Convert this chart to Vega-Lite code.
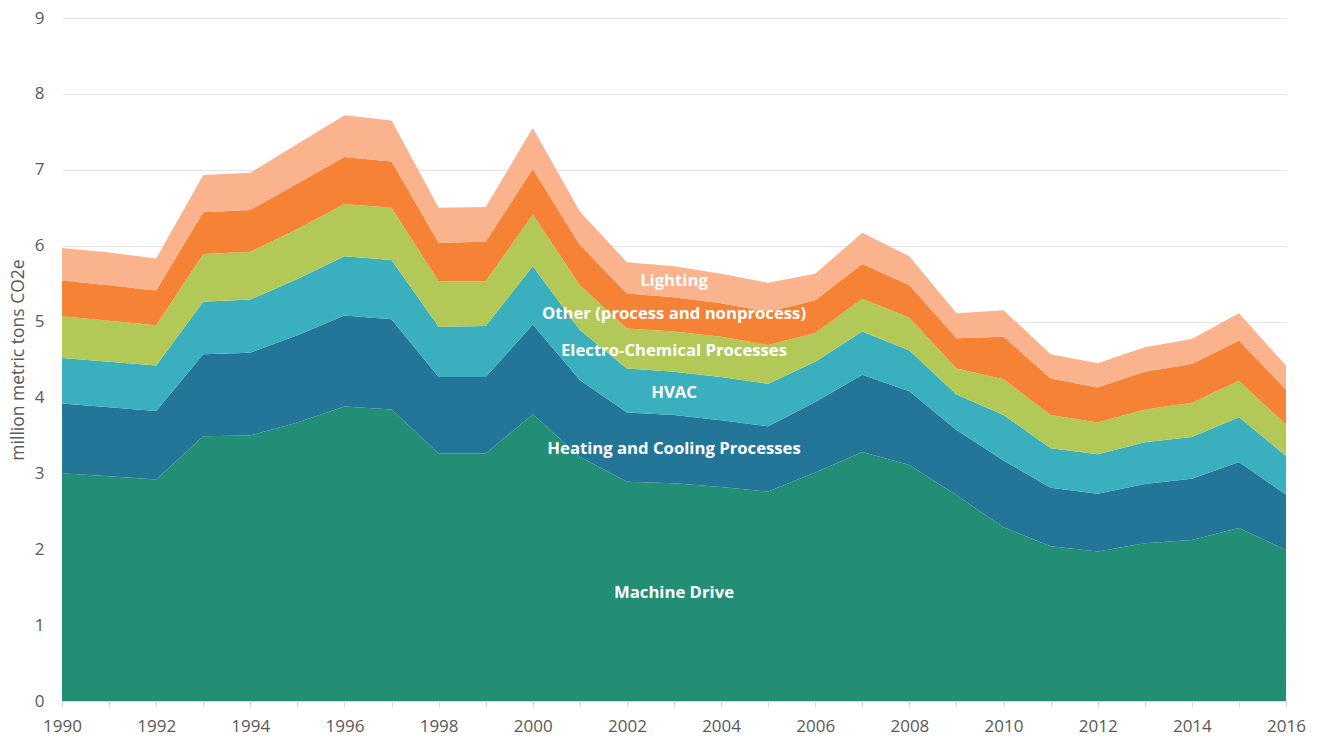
{
  "$schema": "https://vega.github.io/schema/vega-lite/v6.json",
  "autosize": {"type": "none"},
  "width": 1224,
  "height": 683,
  "padding": {"left": 62, "top": 18, "right": 34, "bottom": 37},
  "background": "white",
  "config": {
    "view": {"stroke": null},
    "font": "Open Sans",
    "axis": {"labelFont": "Open Sans", "titleFont": "Open Sans"}
  },
  "datasets": {
    "emissions": [
      {"year":1990,"use":"Machine Drive","k":1,"v":3.00},
      {"year":1990,"use":"Heating and Cooling Processes","k":2,"v":0.92},
      {"year":1990,"use":"HVAC","k":3,"v":0.60},
      {"year":1990,"use":"Electro-Chemical Processes","k":4,"v":0.55},
      {"year":1990,"use":"Other (process and nonprocess)","k":5,"v":0.47},
      {"year":1990,"use":"Lighting","k":6,"v":0.43},
      {"year":1991,"use":"Machine Drive","k":1,"v":2.96},
      {"year":1991,"use":"Heating and Cooling Processes","k":2,"v":0.91},
      {"year":1991,"use":"HVAC","k":3,"v":0.60},
      {"year":1991,"use":"Electro-Chemical Processes","k":4,"v":0.54},
      {"year":1991,"use":"Other (process and nonprocess)","k":5,"v":0.47},
      {"year":1991,"use":"Lighting","k":6,"v":0.43},
      {"year":1992,"use":"Machine Drive","k":1,"v":2.92},
      {"year":1992,"use":"Heating and Cooling Processes","k":2,"v":0.90},
      {"year":1992,"use":"HVAC","k":3,"v":0.60},
      {"year":1992,"use":"Electro-Chemical Processes","k":4,"v":0.53},
      {"year":1992,"use":"Other (process and nonprocess)","k":5,"v":0.46},
      {"year":1992,"use":"Lighting","k":6,"v":0.42},
      {"year":1993,"use":"Machine Drive","k":1,"v":3.49},
      {"year":1993,"use":"Heating and Cooling Processes","k":2,"v":1.08},
      {"year":1993,"use":"HVAC","k":3,"v":0.69},
      {"year":1993,"use":"Electro-Chemical Processes","k":4,"v":0.63},
      {"year":1993,"use":"Other (process and nonprocess)","k":5,"v":0.55},
      {"year":1993,"use":"Lighting","k":6,"v":0.49},
      {"year":1994,"use":"Machine Drive","k":1,"v":3.50},
      {"year":1994,"use":"Heating and Cooling Processes","k":2,"v":1.09},
      {"year":1994,"use":"HVAC","k":3,"v":0.70},
      {"year":1994,"use":"Electro-Chemical Processes","k":4,"v":0.63},
      {"year":1994,"use":"Other (process and nonprocess)","k":5,"v":0.55},
      {"year":1994,"use":"Lighting","k":6,"v":0.49},
      {"year":1995,"use":"Machine Drive","k":1,"v":3.67},
      {"year":1995,"use":"Heating and Cooling Processes","k":2,"v":1.15},
      {"year":1995,"use":"HVAC","k":3,"v":0.74},
      {"year":1995,"use":"Electro-Chemical Processes","k":4,"v":0.66},
      {"year":1995,"use":"Other (process and nonprocess)","k":5,"v":0.60},
      {"year":1995,"use":"Lighting","k":6,"v":0.52},
      {"year":1996,"use":"Machine Drive","k":1,"v":3.88},
      {"year":1996,"use":"Heating and Cooling Processes","k":2,"v":1.20},
      {"year":1996,"use":"HVAC","k":3,"v":0.78},
      {"year":1996,"use":"Electro-Chemical Processes","k":4,"v":0.69},
      {"year":1996,"use":"Other (process and nonprocess)","k":5,"v":0.62},
      {"year":1996,"use":"Lighting","k":6,"v":0.55},
      {"year":1997,"use":"Machine Drive","k":1,"v":3.84},
      {"year":1997,"use":"Heating and Cooling Processes","k":2,"v":1.19},
      {"year":1997,"use":"HVAC","k":3,"v":0.78},
      {"year":1997,"use":"Electro-Chemical Processes","k":4,"v":0.69},
      {"year":1997,"use":"Other (process and nonprocess)","k":5,"v":0.61},
      {"year":1997,"use":"Lighting","k":6,"v":0.54},
      {"year":1998,"use":"Machine Drive","k":1,"v":3.26},
      {"year":1998,"use":"Heating and Cooling Processes","k":2,"v":1.01},
      {"year":1998,"use":"HVAC","k":3,"v":0.66},
      {"year":1998,"use":"Electro-Chemical Processes","k":4,"v":0.60},
      {"year":1998,"use":"Other (process and nonprocess)","k":5,"v":0.51},
      {"year":1998,"use":"Lighting","k":6,"v":0.46},
      {"year":1999,"use":"Machine Drive","k":1,"v":3.26},
      {"year":1999,"use":"Heating and Cooling Processes","k":2,"v":1.01},
      {"year":1999,"use":"HVAC","k":3,"v":0.67},
      {"year":1999,"use":"Electro-Chemical Processes","k":4,"v":0.59},
      {"year":1999,"use":"Other (process and nonprocess)","k":5,"v":0.52},
      {"year":1999,"use":"Lighting","k":6,"v":0.46},
      {"year":2000,"use":"Machine Drive","k":1,"v":3.78},
      {"year":2000,"use":"Heating and Cooling Processes","k":2,"v":1.18},
      {"year":2000,"use":"HVAC","k":3,"v":0.77},
      {"year":2000,"use":"Electro-Chemical Processes","k":4,"v":0.68},
      {"year":2000,"use":"Other (process and nonprocess)","k":5,"v":0.60},
      {"year":2000,"use":"Lighting","k":6,"v":0.54},
      {"year":2001,"use":"Machine Drive","k":1,"v":3.22},
      {"year":2001,"use":"Heating and Cooling Processes","k":2,"v":1.01},
      {"year":2001,"use":"HVAC","k":3,"v":0.66},
      {"year":2001,"use":"Electro-Chemical Processes","k":4,"v":0.59},
      {"year":2001,"use":"Other (process and nonprocess)","k":5,"v":0.53},
      {"year":2001,"use":"Lighting","k":6,"v":0.44},
      {"year":2002,"use":"Machine Drive","k":1,"v":2.89},
      {"year":2002,"use":"Heating and Cooling Processes","k":2,"v":0.91},
      {"year":2002,"use":"HVAC","k":3,"v":0.58},
      {"year":2002,"use":"Electro-Chemical Processes","k":4,"v":0.53},
      {"year":2002,"use":"Other (process and nonprocess)","k":5,"v":0.46},
      {"year":2002,"use":"Lighting","k":6,"v":0.41},
      {"year":2003,"use":"Machine Drive","k":1,"v":2.87},
      {"year":2003,"use":"Heating and Cooling Processes","k":2,"v":0.90},
      {"year":2003,"use":"HVAC","k":3,"v":0.57},
      {"year":2003,"use":"Electro-Chemical Processes","k":4,"v":0.53},
      {"year":2003,"use":"Other (process and nonprocess)","k":5,"v":0.45},
      {"year":2003,"use":"Lighting","k":6,"v":0.41},
      {"year":2004,"use":"Machine Drive","k":1,"v":2.82},
      {"year":2004,"use":"Heating and Cooling Processes","k":2,"v":0.88},
      {"year":2004,"use":"HVAC","k":3,"v":0.57},
      {"year":2004,"use":"Electro-Chemical Processes","k":4,"v":0.53},
      {"year":2004,"use":"Other (process and nonprocess)","k":5,"v":0.44},
      {"year":2004,"use":"Lighting","k":6,"v":0.39},
      {"year":2005,"use":"Machine Drive","k":1,"v":2.76},
      {"year":2005,"use":"Heating and Cooling Processes","k":2,"v":0.86},
      {"year":2005,"use":"HVAC","k":3,"v":0.56},
      {"year":2005,"use":"Electro-Chemical Processes","k":4,"v":0.51},
      {"year":2005,"use":"Other (process and nonprocess)","k":5,"v":0.44},
      {"year":2005,"use":"Lighting","k":6,"v":0.38},
      {"year":2006,"use":"Machine Drive","k":1,"v":3.01},
      {"year":2006,"use":"Heating and Cooling Processes","k":2,"v":0.93},
      {"year":2006,"use":"HVAC","k":3,"v":0.53},
      {"year":2006,"use":"Electro-Chemical Processes","k":4,"v":0.38},
      {"year":2006,"use":"Other (process and nonprocess)","k":5,"v":0.43},
      {"year":2006,"use":"Lighting","k":6,"v":0.35},
      {"year":2007,"use":"Machine Drive","k":1,"v":3.28},
      {"year":2007,"use":"Heating and Cooling Processes","k":2,"v":1.02},
      {"year":2007,"use":"HVAC","k":3,"v":0.57},
      {"year":2007,"use":"Electro-Chemical Processes","k":4,"v":0.43},
      {"year":2007,"use":"Other (process and nonprocess)","k":5,"v":0.46},
      {"year":2007,"use":"Lighting","k":6,"v":0.41},
      {"year":2008,"use":"Machine Drive","k":1,"v":3.11},
      {"year":2008,"use":"Heating and Cooling Processes","k":2,"v":0.97},
      {"year":2008,"use":"HVAC","k":3,"v":0.54},
      {"year":2008,"use":"Electro-Chemical Processes","k":4,"v":0.43},
      {"year":2008,"use":"Other (process and nonprocess)","k":5,"v":0.43},
      {"year":2008,"use":"Lighting","k":6,"v":0.38},
      {"year":2009,"use":"Machine Drive","k":1,"v":2.71},
      {"year":2009,"use":"Heating and Cooling Processes","k":2,"v":0.86},
      {"year":2009,"use":"HVAC","k":3,"v":0.47},
      {"year":2009,"use":"Electro-Chemical Processes","k":4,"v":0.34},
      {"year":2009,"use":"Other (process and nonprocess)","k":5,"v":0.40},
      {"year":2009,"use":"Lighting","k":6,"v":0.33},
      {"year":2010,"use":"Machine Drive","k":1,"v":2.29},
      {"year":2010,"use":"Heating and Cooling Processes","k":2,"v":0.88},
      {"year":2010,"use":"HVAC","k":3,"v":0.60},
      {"year":2010,"use":"Electro-Chemical Processes","k":4,"v":0.47},
      {"year":2010,"use":"Other (process and nonprocess)","k":5,"v":0.56},
      {"year":2010,"use":"Lighting","k":6,"v":0.35},
      {"year":2011,"use":"Machine Drive","k":1,"v":2.04},
      {"year":2011,"use":"Heating and Cooling Processes","k":2,"v":0.77},
      {"year":2011,"use":"HVAC","k":3,"v":0.52},
      {"year":2011,"use":"Electro-Chemical Processes","k":4,"v":0.44},
      {"year":2011,"use":"Other (process and nonprocess)","k":5,"v":0.48},
      {"year":2011,"use":"Lighting","k":6,"v":0.32},
      {"year":2012,"use":"Machine Drive","k":1,"v":1.97},
      {"year":2012,"use":"Heating and Cooling Processes","k":2,"v":0.76},
      {"year":2012,"use":"HVAC","k":3,"v":0.52},
      {"year":2012,"use":"Electro-Chemical Processes","k":4,"v":0.42},
      {"year":2012,"use":"Other (process and nonprocess)","k":5,"v":0.46},
      {"year":2012,"use":"Lighting","k":6,"v":0.32},
      {"year":2013,"use":"Machine Drive","k":1,"v":2.08},
      {"year":2013,"use":"Heating and Cooling Processes","k":2,"v":0.78},
      {"year":2013,"use":"HVAC","k":3,"v":0.55},
      {"year":2013,"use":"Electro-Chemical Processes","k":4,"v":0.43},
      {"year":2013,"use":"Other (process and nonprocess)","k":5,"v":0.50},
      {"year":2013,"use":"Lighting","k":6,"v":0.32},
      {"year":2014,"use":"Machine Drive","k":1,"v":2.12},
      {"year":2014,"use":"Heating and Cooling Processes","k":2,"v":0.81},
      {"year":2014,"use":"HVAC","k":3,"v":0.55},
      {"year":2014,"use":"Electro-Chemical Processes","k":4,"v":0.45},
      {"year":2014,"use":"Other (process and nonprocess)","k":5,"v":0.51},
      {"year":2014,"use":"Lighting","k":6,"v":0.33},
      {"year":2015,"use":"Machine Drive","k":1,"v":2.28},
      {"year":2015,"use":"Heating and Cooling Processes","k":2,"v":0.87},
      {"year":2015,"use":"HVAC","k":3,"v":0.59},
      {"year":2015,"use":"Electro-Chemical Processes","k":4,"v":0.48},
      {"year":2015,"use":"Other (process and nonprocess)","k":5,"v":0.53},
      {"year":2015,"use":"Lighting","k":6,"v":0.36},
      {"year":2016,"use":"Machine Drive","k":1,"v":1.99},
      {"year":2016,"use":"Heating and Cooling Processes","k":2,"v":0.73},
      {"year":2016,"use":"HVAC","k":3,"v":0.51},
      {"year":2016,"use":"Electro-Chemical Processes","k":4,"v":0.41},
      {"year":2016,"use":"Other (process and nonprocess)","k":5,"v":0.46},
      {"year":2016,"use":"Lighting","k":6,"v":0.32}
    ],
    "labels": [
      {"label":"Lighting","year":2003.0,"v":5.53},
      {"label":"Other (process and nonprocess)","year":2003.0,"v":5.10},
      {"label":"Electro-Chemical Processes","year":2003.0,"v":4.61},
      {"label":"HVAC","year":2003.0,"v":4.06},
      {"label":"Heating and Cooling Processes","year":2003.0,"v":3.32},
      {"label":"Machine Drive","year":2003.0,"v":1.42}
    ]
  },
  "layer": [
    {
      "data": {"name": "emissions"},
      "mark": {"type": "area", "interpolate": "linear", "opacity": 1},
      "encoding": {
        "x": {
          "field": "year", "type": "quantitative",
          "scale": {"domain": [1990, 2016], "nice": false, "zero": false},
          "axis": {
            "title": null,
            "values": [1990,1991,1992,1993,1994,1995,1996,1997,1998,1999,2000,2001,2002,2003,2004,2005,2006,2007,2008,2009,2010,2011,2012,2013,2014,2015,2016],
            "labelExpr": "datum.value % 2 == 0 ? datum.value : ''",
            "format": "d",
            "grid": false,
            "domain": true,
            "domainColor": "#d9d9d9",
            "domainWidth": 1,
            "ticks": true,
            "tickColor": "#d9d9d9",
            "tickSize": 6,
            "labelFontSize": 17,
            "labelColor": "#595959",
            "labelPadding": 11,
            "labelFlush": false,
            "labelOverlap": false
          }
        },
        "y": {
          "field": "v", "type": "quantitative", "stack": "zero",
          "scale": {"domain": [0, 9], "nice": false},
          "axis": {
            "title": "million metric tons CO2e",
            "titleFontSize": 17.5,
            "titleFontWeight": "normal",
            "titleColor": "#595959",
            "titlePadding": 7,
            "values": [0,1,2,3,4,5,6,7,8,9],
            "format": "d",
            "grid": true,
            "gridColor": "#e3e3e3",
            "gridWidth": 1,
            "domain": false,
            "ticks": false,
            "labelFontSize": 17,
            "labelColor": "#595959",
            "labelPadding": 18
          }
        },
        "color": {
          "field": "use", "type": "nominal",
          "scale": {
            "domain": ["Machine Drive","Heating and Cooling Processes","HVAC","Electro-Chemical Processes","Other (process and nonprocess)","Lighting"],
            "range": ["#238E76","#247698","#3AAFBE","#B2C957","#F58235","#FAB38D"]
          },
          "legend": null
        },
        "order": {"field": "k", "type": "quantitative", "sort": "ascending"}
      }
    },
    {
      "data": {"name": "labels"},
      "mark": {"type": "text", "font": "Open Sans", "fontSize": 16.7, "fontWeight": "bold", "color": "white", "align": "center", "baseline": "middle"},
      "encoding": {
        "x": {"field": "year", "type": "quantitative"},
        "y": {"field": "v", "type": "quantitative"},
        "text": {"field": "label", "type": "nominal"}
      }
    }
  ]
}
